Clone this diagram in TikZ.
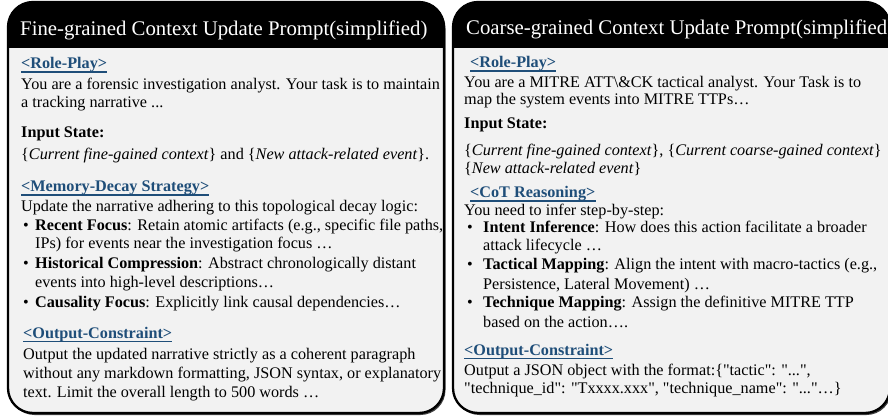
\documentclass[tikz,border=0pt]{standalone}
\usepackage{fontspec}
\setmainfont{Liberation Serif}[Ligatures=TeXOff]
\definecolor{hblue}{HTML}{1F4E79}
\definecolor{pbg}{HTML}{F2F2F2}
\tikzset{
 txt/.style={anchor=base west, inner sep=0pt, font=\fontsize{16.2}{19}\selectfont},
 headtxt/.style={txt, font=\fontsize{16.2}{19}\selectfont\bfseries, text=hblue},
 titletxt/.style={anchor=base west, inner sep=0pt, text=white, font=\fontsize{20.8}{25}\selectfont},
 uline/.style={draw=hblue, line width=1.4pt},
 frame/.style={draw=black, line width=2.3pt},
 shadow/.style={fill=black!75},
}
\begin{document}
\begin{tikzpicture}[x=1pt,y=-1pt]
\useasboundingbox (0,0) rectangle (888,419);
% ---------- left panel ----------
\fill[shadow, rounded corners=25pt] (9.5,3.5) rectangle (445.5,415);
\fill[pbg, rounded corners=25pt] (8,2) rectangle (444,413);
\begin{scope}
\clip[rounded corners=25pt] (8,2) rectangle (444,413);
\fill[black] (8,2) rectangle (444,48);
\end{scope}
\draw[frame, rounded corners=25pt] (8,2) rectangle (444,413);
% ---------- right panel ----------
\fill[shadow, rounded corners=25pt] (454.5,3.5) rectangle (891.5,415);
\fill[pbg, rounded corners=25pt] (453,2) rectangle (890,413);
\begin{scope}
\clip[rounded corners=25pt] (453,2) rectangle (890,413);
\fill[black] (453,2) rectangle (890,48);
\end{scope}
\draw[frame, rounded corners=25pt] (453,2) rectangle (890,413);

% ---------- left texts ----------
\node[titletxt] (lt) at (20,36) {Fine-grained Context Update Prompt(simplified)};
\node[headtxt] (lh1) at (21,69) {<Role-Play>};
\node[txt] (l1) at (21,90) {You are a forensic investigation analyst. Your task is to maintain};
\node[txt] (l2) at (21,108) {a tracking narrative ...};
\node[txt] (l3) at (21,138) {\textbf{Input State:}};
\node[txt] (l4) at (21,160) {\{\textit{Current fine-gained context}\} and \{\textit{New attack-related event}\}.};
\node[headtxt] (lh2) at (21,192) {<Memory-Decay Strategy>};
\node[txt] (l5) at (21,212) {Update the narrative adhering to this topological decay logic:};
\node[txt] (lb1) at (23,231) {\textbullet};
\node[txt] (l6) at (35,231) {\textbf{Recent Focus}: Retain atomic artifacts (e.g., specific file paths,};
\node[txt] (l7) at (35,249) {IPs) for events near the investigation focus …};
\node[txt] (lb2) at (23,269) {\textbullet};
\node[txt] (l8) at (35,269) {\textbf{Historical Compression}: Abstract chronologically distant};
\node[txt] (l9) at (35,288) {events into high-level descriptions…};
\node[txt] (lb3) at (23,308) {\textbullet};
\node[txt] (l10) at (35,308) {\textbf{Causality Focus}: Explicitly link causal dependencies…};
\node[headtxt] (lh3) at (23,338) {<Output-Constraint>};
\node[txt] (l11) at (23,359) {Output the updated narrative strictly as a coherent paragraph};
\node[txt] (l12) at (23,378) {without any markdown formatting, JSON syntax, or explanatory};
\node[txt] (l13) at (23,397) {text. Limit the overall length to 500 words …};
\foreach \h in {lh1,lh2,lh3}
  \draw[uline] ([yshift=-3.2pt]\h.base west) -- ([yshift=-3.2pt]\h.base east);

% ---------- right texts ----------
\node[titletxt] (rt) at (466,35) {Coarse-grained Context Update Prompt(simplified)};
\node[headtxt] (rh1) at (470,68) {<Role-Play>};
\node[txt] (r1) at (464,88) {You are a MITRE ATT\textbackslash\&CK tactical analyst. Your Task is to};
\node[txt] (r2) at (464,105) {map the system events into MITRE TTPs…};
\node[txt] (r3) at (464,129) {\textbf{Input State:}};
\node[txt] (r4) at (464,156) {\{\textit{Current fine-gained context}\}, \{\textit{Current coarse-gained context}\}};
\node[txt] (r5) at (464,174) {\{\textit{New attack-related event}\}};
\node[headtxt] (rh2) at (470,198) {<CoT Reasoning>};
\node[txt] (r6) at (464,216) {You need to infer step-by-step:};
\node[txt] (rb1) at (467,233) {\textbullet};
\node[txt] (r7) at (483,233) {\textbf{Intent Inference}: How does this action facilitate a broader};
\node[txt] (r8) at (483,251) {attack lifecycle …};
\node[txt] (rb2) at (467,270) {\textbullet};
\node[txt] (r9) at (483,270) {\textbf{Tactical Mapping}: Align the intent with macro-tactics (e.g.,};
\node[txt] (r10) at (483,290) {Persistence, Lateral Movement) …};
\node[txt] (rb3) at (467,308) {\textbullet};
\node[txt] (r11) at (483,308) {\textbf{Technique Mapping}: Assign the definitive MITRE TTP};
\node[txt] (r12) at (483,327) {based on the action….};
\node[headtxt] (rh3) at (464,355) {<Output-Constraint>};
\node[txt] (r13) at (464,375) {Output a JSON object with the format:\{"tactic": "...",};
\node[txt] (r14) at (464,393) {"technique\_id": "Txxxx.xxx", "technique\_name": "..."…\}};
\foreach \h in {rh1,rh2,rh3}
  \draw[uline] ([yshift=-3.2pt]\h.base west) -- ([yshift=-3.2pt]\h.base east);
\end{tikzpicture}
\end{document}
